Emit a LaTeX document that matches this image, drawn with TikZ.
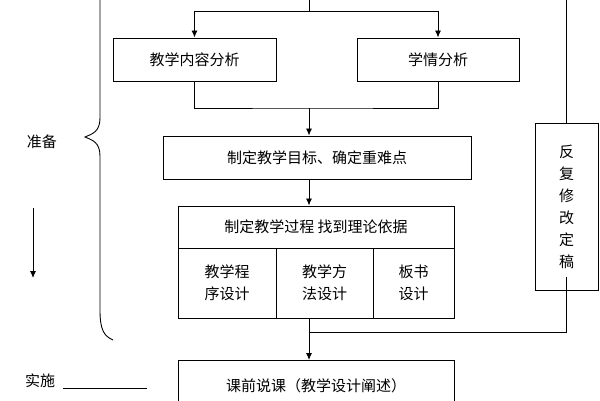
\documentclass[tikz,border=0pt]{standalone}
\usepackage{fontspec}
\setmainfont{Noto Sans CJK SC}
\usetikzlibrary{positioning}
\usetikzlibrary{arrows.meta}
\tikzset{
	stepbox/.style={
		draw, line width=1pt, inner sep=0pt, font=\fontsize{15}{20}\selectfont
	},
	cellbox/.style={
		draw, line width=1pt, inner sep=0pt, align=center, font=\fontsize{15}{22}\selectfont
	},
	flow/.style={
		-{Latex[length=7pt,width=6pt]}, line width=0.9pt
	},
	link/.style={
		line width=0.9pt
	}
}
\begin{document}
\begin{tikzpicture}[x=1pt,y=-1pt]
\useasboundingbox (0,0) rectangle (600,400);
% boxes
\node[stepbox, minimum width=163, minimum height=43] (content) at (194.5,59.5) {教学内容分析};
\node[stepbox, minimum width=162, minimum height=43] (learner) at (438,59.5) {学情分析};
\node[stepbox, minimum width=308, minimum height=43] (goal) at (317,157.5) {制定教学目标、确定重难点};
\node[stepbox, minimum width=276, minimum height=42] (process) at (316,227) {制定教学过程\ 找到理论依据};
\node[cellbox, minimum width=98, minimum height=70] (order) at (227,283) {教学程\\序设计};
\node[cellbox, minimum width=97, minimum height=70] (method) at (324.5,283) {教学方\\法设计};
\node[cellbox, minimum width=81, minimum height=70] (board) at (413.5,283) {板书\\设计};
\node[stepbox, minimum width=276, minimum height=50, anchor=north] (talk) at (316,360) {\raisebox{-4pt}{课前说课（教学设计阐述）}};
\node[cellbox, minimum width=63, minimum height=167] (revise) at (566.5,206.5) {反\\复\\修\\改\\定\\稿};
% arrows
\coordinate (top) at (309,0);
\coordinate (split) at (309,11);
\draw[link] (top) -- (split);
\draw[flow] (split) -| (content.north);
\draw[flow] (split) -| (learner.north);
\coordinate (join) at (309,108);
\draw[link] (content.south) |- (join) -| (learner.south);
\draw[flow] (join) -- (join |- goal.north);
\draw[flow] (join |- goal.south) -- (join |- process.north);
\draw[link] (revise.north) -- (566.5,0);
\coordinate (back) at (309,332);
\draw[link] (566.5,277) |- (back);
\draw[flow] (join |- method.south) -- (join |- talk.north);
% left side
\draw[line width=0.9pt] (100,0) -- (100,118) .. controls (100,132) and (92,134) .. (85,137)
	.. controls (92,140) and (100,142) .. (100,156) -- (100,310) .. controls (100,330) and (104,336) .. (113,340);
\node[font=\fontsize{15}{16}\selectfont] (prep) at (42,142) {准备};
\coordinate (down1) at (33,208);
\coordinate (down2) at (33,278);
\draw[flow] (down1) -- (down2);
\node[font=\fontsize{15}{16}\selectfont] (act) at (40,381) {实施};
\coordinate (line1) at (63,388);
\coordinate (line2) at (147,388);
\draw[link] (line1) -- (line2);
\end{tikzpicture}
\end{document}
